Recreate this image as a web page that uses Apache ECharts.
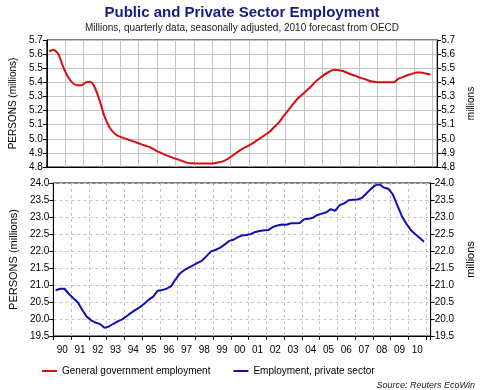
<!DOCTYPE html>
<html><head><meta charset="utf-8">
<script src="https://cdn.jsdelivr.net/npm/echarts@6/dist/echarts.min.js"></script>
<style>html,body{margin:0;padding:0;background:#fff}#c{width:484px;height:390px}</style>
</head><body><div id="c"></div>
<script>
// Categories: quarters 1990Q1 .. 2010Q4
const years = [1990,1991,1992,1993,1994,1995,1996,1997,1998,1999,2000,2001,2002,2003,2004,2005,2006,2007,2008,2009,2010];
const yearLabels = ['90','91','92','93','94','95','96','97','98','99','00','01','02','03','04','05','06','07','08','09','10'];
const quarterNames = ['Q1','Q2','Q3','Q4'];

// General government employment (millions)
const govEmployment = [
  5.62,5.63,5.60,5.515, 5.445,5.40,5.38,5.38, 5.40,5.405,5.36,5.27,
  5.165,5.09,5.045,5.02, 5.008,4.997,4.985,4.974, 4.962,4.951,4.94,4.922,
  4.905,4.89,4.877,4.865, 4.854,4.843,4.831,4.826, 4.825,4.825,4.825,4.825,
  4.827,4.833,4.842,4.86, 4.882,4.905,4.926,4.944, 4.962,4.983,5.005,5.028,
  5.05,5.083,5.115,5.158, 5.20,5.24,5.28,5.31, 5.34,5.37,5.405,5.432,
  5.456,5.475,5.489,5.486, 5.48,5.466,5.454,5.442, 5.43,5.42,5.408,5.403,
  5.40,5.40,5.40,5.40, 5.424,5.437,5.45,5.46, 5.47,5.47,5.463,5.455
];
// Employment, private sector (millions)
const privateEmployment = [
  20.84,20.89,20.89,20.735, 20.61,20.49,20.27,20.07, 19.96,19.895,19.85,19.74,
  19.78,19.86,19.93,19.99, 20.08,20.18,20.27,20.35, 20.45,20.57,20.66,20.83,
  20.85,20.89,20.96,21.16, 21.34,21.44,21.51,21.58, 21.65,21.72,21.85,21.99,
  22.03,22.09,22.18,22.29, 22.33,22.40,22.46,22.47, 22.50,22.56,22.59,22.61,
  22.62,22.71,22.75,22.78, 22.77,22.815,22.815,22.82, 22.935,22.95,22.98,23.06,
  23.10,23.14,23.23,23.185, 23.35,23.40,23.49,23.51, 23.515,23.56,23.69,23.82,
  23.93,23.96,23.86,23.83, 23.66,23.34,23.03,22.81, 22.62,22.50,22.39,22.27
];
const topTicks = {min:4.8, max:5.7, step:0.1};
const bottomTicks = {min:19.5, max:24.0, step:0.5};
const xRange = {min:1990, max:2011.25};

const quarterX = [];
years.forEach(y => quarterNames.forEach((q,i) => quarterX.push(y + i/4 + 0.125)));

const FONT = '"Liberation Sans", Arial, sans-serif';
const chart = echarts.init(document.getElementById('c'), null, {renderer:'canvas'});

function yAx(grid, pos, t, name, split, dashed, nameSize){
  return {
    type:'value', gridIndex:grid, position:pos, min:t.min, max:t.max, interval:t.step,
    name:name, nameLocation:'middle', nameGap: pos==='left'?28:27, nameRotate:90,
    nameTextStyle:{fontSize:nameSize, color:'#000', fontFamily:FONT},
    axisLine:{show:true, lineStyle:{color:'#000', width:1}},
    axisTick:{show:true, inside:false, length:4, lineStyle:{color:'#000'}},
    axisLabel:{fontSize:10, color:'#000', margin:4, fontFamily:FONT, formatter:v=>v.toFixed(1)},
    splitLine:{show:split, lineStyle:{color:'#c4c4c4', width:1, type: dashed?[3,3]:'solid'}}
  };
}

chart.setOption({
  animation:false,
  textStyle:{fontFamily:FONT},
  title:[
    {text:'Public and Private Sector Employment', subtext:'Millions, quarterly data, seasonally adjusted, 2010 forecast from OECD',
     left:'center', top:0, itemGap:3,
     textStyle:{fontSize:15, fontWeight:'bold', color:'#1a1a80', fontFamily:FONT},
     subtextStyle:{fontSize:10, color:'#222', fontFamily:FONT}},
    {text:'Source: Reuters EcoWin', right:4, top:376,
     textStyle:{fontSize:9, fontStyle:'italic', fontWeight:'normal', color:'#222', fontFamily:FONT}}
  ],
  legend:{
    left:37, top:361, icon:'rect', itemWidth:15, itemHeight:2, itemGap:23,
    textStyle:{fontSize:10, color:'#000', fontFamily:FONT},
    data:['General government employment','Employment, private sector']
  },
  grid:[
    {left:40, right:40, top:40, height:127, show:true, borderColor:'#000', borderWidth:1, backgroundColor:'transparent'},
    {left:40, right:40, top:183, height:153, show:true, borderColor:'#000', borderWidth:1, backgroundColor:'transparent'}
  ],
  xAxis:[
    {type:'value', gridIndex:0, min:xRange.min, max:xRange.max, interval:1,
     axisLine:{show:true, onZero:false, lineStyle:{color:'#000'}}, axisTick:{show:false}, axisLabel:{show:false},
     splitLine:{show:true, lineStyle:{color:'#c4c4c4', width:1}}},
    {type:'value', gridIndex:1, position:'bottom', min:xRange.min, max:xRange.max, interval:1,
     axisLine:{show:true, onZero:false, lineStyle:{color:'#000'}}, axisTick:{show:true, length:4, lineStyle:{color:'#000'}},
     axisLabel:{show:false},
     splitLine:{show:true, lineStyle:{color:'#c4c4c4', width:1, type:[3,3]}}},
    {type:'value', gridIndex:1, position:'bottom', min:xRange.min, max:xRange.max, interval:0.5,
     axisLine:{show:false, onZero:false}, axisTick:{show:false}, splitLine:{show:false},
     axisLabel:{show:true, fontSize:10, color:'#000', margin:9, fontFamily:FONT,
       formatter:v=>{const f=v-Math.floor(v); if(Math.abs(f-0.5)<0.01){const i=Math.floor(v)-years[0]; return yearLabels[i]||'';} return '';}}}
  ],
  yAxis:[
    yAx(0,'left',topTicks,'PERSONS (millions)',true,false,10),
    yAx(0,'right',topTicks,'millions',false,false,10),
    yAx(1,'left',bottomTicks,'PERSONS (millions)',true,true,11),
    yAx(1,'right',bottomTicks,'millions',false,true,11)
  ],
  series:[
    {name:'General government employment', type:'line', xAxisIndex:0, yAxisIndex:0, symbol:'none', smooth:0.3,
     lineStyle:{color:'#d80f0f', width:2}, itemStyle:{color:'#d80f0f'},
     data:govEmployment.map((v,i)=>[quarterX[i], v])},
    {name:'Employment, private sector', type:'line', xAxisIndex:1, yAxisIndex:2, symbol:'none',
     lineStyle:{color:'#1010b4', width:2}, itemStyle:{color:'#1010b4'},
     data:privateEmployment.map((v,i)=>[quarterX[i], v])}
  ]
});
</script></body></html>
